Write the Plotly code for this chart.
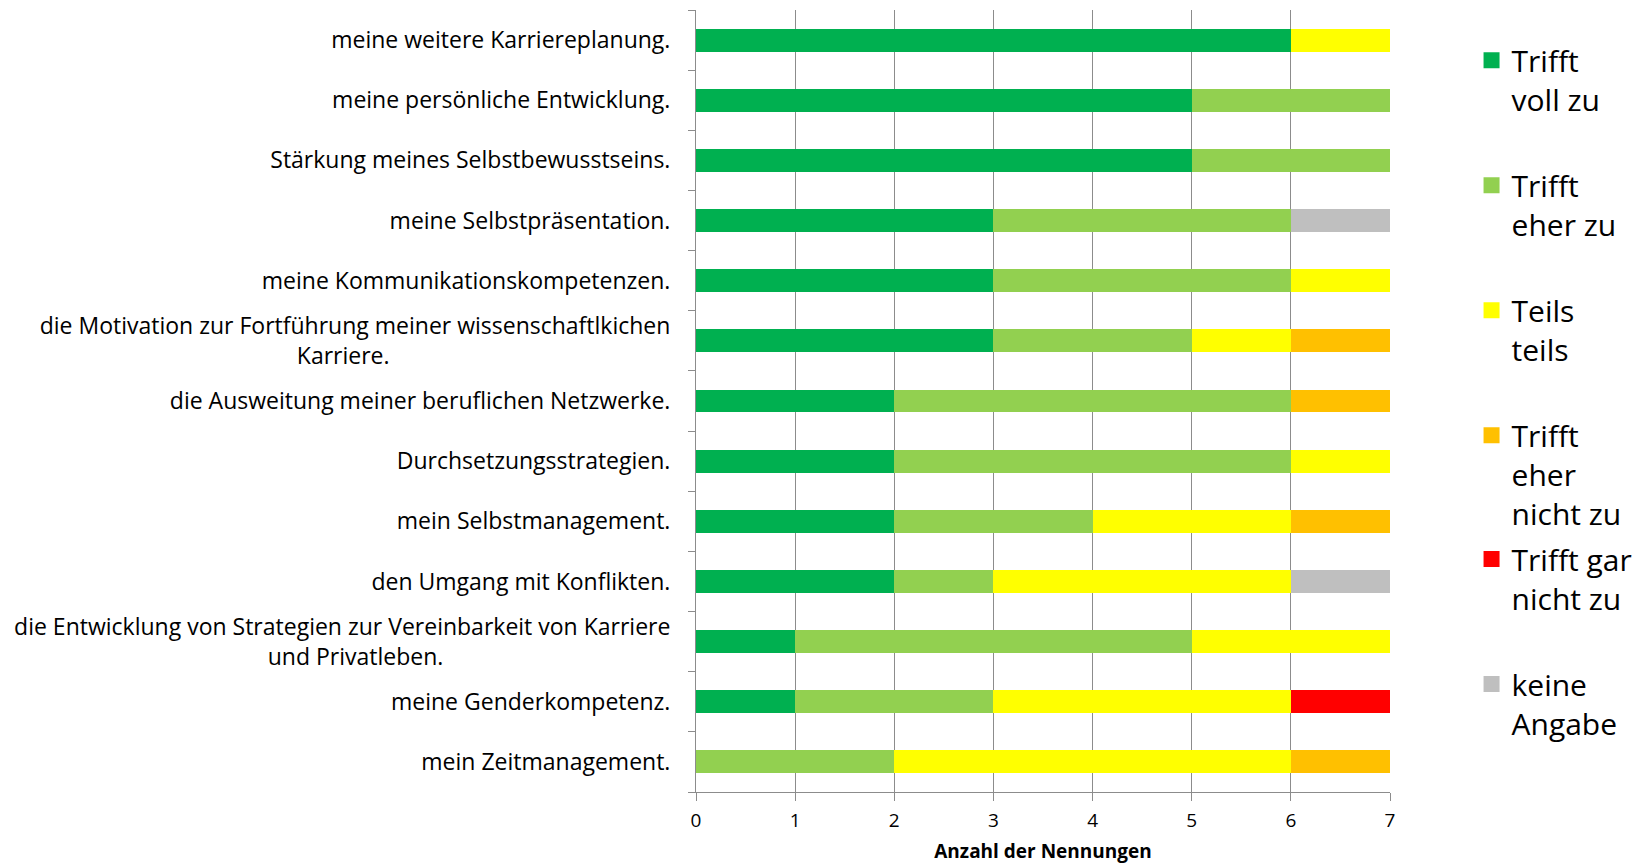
import plotly.graph_objects as go

categories = [
    "meine weitere Karriereplanung.",
    "meine persönliche Entwicklung.",
    "Stärkung meines Selbstbewusstseins.",
    "meine Selbstpräsentation.",
    "meine Kommunikationskompetenzen.",
    "die Motivation zur Fortführung meiner wissenschaftlkichen<br>Karriere.",
    "die Ausweitung meiner beruflichen Netzwerke.",
    "Durchsetzungsstrategien.",
    "mein Selbstmanagement.",
    "den Umgang mit Konflikten.",
    "die Entwicklung von Strategien zur Vereinbarkeit von Karriere<br>und Privatleben.",
    "meine Genderkompetenz.",
    "mein Zeitmanagement.",
]

trifft_voll_zu = [6, 5, 5, 3, 3, 3, 2, 2, 2, 2, 1, 1, 0]
trifft_eher_zu = [0, 2, 2, 3, 3, 2, 4, 4, 2, 1, 4, 2, 2]
teils_teils = [1, 0, 0, 0, 1, 1, 0, 1, 2, 3, 2, 3, 4]
trifft_eher_nicht_zu = [0, 0, 0, 0, 0, 1, 1, 0, 1, 0, 0, 0, 1]
trifft_gar_nicht_zu = [0, 0, 0, 0, 0, 0, 0, 0, 0, 0, 0, 1, 0]
keine_angabe = [0, 0, 0, 1, 0, 0, 0, 0, 0, 1, 0, 0, 0]

series_names = ["Trifft<br>voll zu", "Trifft<br>eher zu", "Teils<br>teils",
                "Trifft<br>eher<br>nicht zu", "Trifft gar<br>nicht zu", "keine<br>Angabe"]
series_values = [trifft_voll_zu, trifft_eher_zu, teils_teils,
                 trifft_eher_nicht_zu, trifft_gar_nicht_zu, keine_angabe]
colors = ["#00B050", "#92D050", "#FFFF00", "#FFC000", "#FF0000", "#BFBFBF"]
x_ticks = [0, 1, 2, 3, 4, 5, 6, 7]

FONT = "Open Sans"

# second lines of wrapped labels are centred under the first line (pad with no-break spaces)
pad_counts = {5: 47, 10: 38}
tick_text = [c + "\u00a0" * pad_counts.get(i, 0) for i, c in enumerate(categories)]

fig = go.Figure()
for i, (name, vals, col) in enumerate(zip(series_names, series_values, colors)):
    fig.add_trace(go.Bar(
        y=categories, x=vals, name=name, orientation="h",
        marker=dict(color=col, line=dict(width=0)),
        legendgroup=f"g{i}", showlegend=False,
    ))
    # legend entry with a larger square swatch
    fig.add_trace(go.Scatter(
        x=[None], y=[None], mode="markers", name=name,
        marker=dict(symbol="square", size=16, color=col),
        legendgroup=f"g{i}", showlegend=True, hoverinfo="skip",
        legend="legend" if i < 4 else "legend2",
    ))

legend_common = dict(
    xanchor="left", yanchor="top",
    font=dict(family=FONT, size=30, color="black"),
    valign="top", tracegroupgap=44, traceorder="grouped",
    itemsizing="trace", bgcolor="rgba(0,0,0,0)",
)

# margins account for the page's default 8px body margin
fig.update_layout(
    barmode="stack",
    bargap=0.62,
    width=1643, height=867,
    margin=dict(l=688, r=261, t=2, b=83),
    paper_bgcolor="white", plot_bgcolor="white",
    font=dict(family=FONT, color="black", size=20),
    legend=dict(x=1.1175, y=0.969, **legend_common),
    legend2=dict(x=1.1175, y=0.3312, **legend_common),
    showlegend=True,
)

fig.update_xaxes(
    range=[0, 7], tickvals=x_ticks, ticktext=[str(v) for v in x_ticks],
    showgrid=True, gridcolor="#8C8C8C", gridwidth=1,
    showline=True, linecolor="#8C8C8C", linewidth=1,
    ticks="outside", ticklen=8, tickcolor="#8C8C8C",
    tickfont=dict(family=FONT, size=19), ticklabelstandoff=3,
    title=dict(text="<b>Anzahl der Nennungen</b>", font=dict(family=FONT, size=19), standoff=12),
    zeroline=False,
)
fig.update_yaxes(
    categoryorder="array", categoryarray=categories, autorange="reversed",
    tickvals=categories, ticktext=tick_text,
    showline=True, linecolor="#8C8C8C", linewidth=1,
    ticks="outside", ticklen=7, tickcolor="#8C8C8C", tickson="boundaries",
    tickfont=dict(family=FONT, size=23),
    ticklabelstandoff=20,
    showgrid=False, zeroline=False,
)

fig.write_html("out.html", config={"displayModeBar": False})
